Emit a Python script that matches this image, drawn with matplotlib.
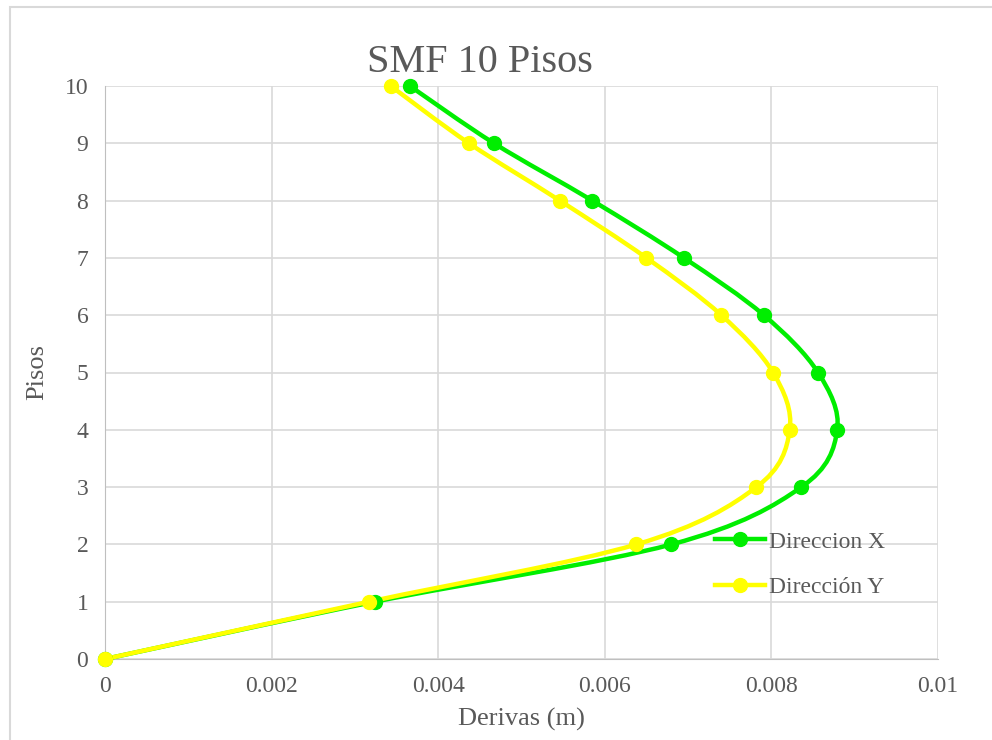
import matplotlib
matplotlib.use("Agg")
import matplotlib.pyplot as plt
from matplotlib.path import Path
from matplotlib.patches import PathPatch, Rectangle
from matplotlib.lines import Line2D
import numpy as np

plt.rcParams['font.family'] = ['Liberation Serif', 'DejaVu Serif']

pisos = [0, 1, 2, 3, 4, 5, 6, 7, 8, 9, 10]
deriva_x = [0, 0.00324, 0.00680, 0.00836, 0.00879, 0.00856, 0.00791, 0.00695, 0.00585, 0.00467, 0.00366]
deriva_y = [0, 0.00317, 0.00638, 0.00782, 0.00822, 0.00802, 0.00740, 0.00650, 0.00546, 0.00437, 0.00343]
series_names = ["Direccion X", "Dirección Y"]
colors = ["#00ee00", "#ffff00"]
xticks = [0, 0.002, 0.004, 0.006, 0.008, 0.01]
xticklabels = ["0", "0.002", "0.004", "0.006", "0.008", "0.01"]

fig = plt.figure(figsize=(9.92, 7.40), dpi=100)
fig.patches.append(Rectangle((10/992, -0.1), 1.2, (740-7)/740 + 0.1, transform=fig.transFigure,
                             fill=False, edgecolor="#d9d9d9", lw=1.5))
ax = fig.add_axes([105/992, 1-659/740, 833/992, 573/740])


def smooth_path(xs, ys):
    pts = np.column_stack([xs, ys]).astype(float)
    n = len(pts)
    verts = [pts[0]]
    codes = [Path.MOVETO]
    for i in range(n - 1):
        p0 = pts[i - 1] if i > 0 else pts[i]
        p1 = pts[i]
        p2 = pts[i + 1]
        p3 = pts[i + 2] if i + 2 < n else pts[i + 1]
        c1 = p1 + (p2 - p0) / 6
        c2 = p2 - (p3 - p1) / 6
        verts += [c1, c2, p2]
        codes += [Path.CURVE4] * 3
    return Path(verts, codes)


handles = []
for xs, name, c in zip([deriva_x, deriva_y], series_names, colors):
    ax.add_patch(PathPatch(smooth_path(xs, pisos), fill=False, edgecolor=c, lw=3.2, zorder=3,
                           capstyle='round', clip_on=False))
    ax.plot(xs, pisos, linestyle='none', marker='o', markersize=10, color=c, zorder=4,
            clip_on=False)
    handles.append(Line2D([], [], color=c, lw=3.2, marker='o', markersize=10))

ax.set_xlim(0, 0.01)
ax.set_ylim(0, 10)
ax.set_xticks(xticks)
ax.set_xticklabels(xticklabels)
ax.set_yticks(range(0, 11))
ax.grid(True, color="#d9d9d9", lw=1.2)
ax.set_axisbelow(True)
for s in ax.spines.values():
    s.set_visible(False)
ax.spines['left'].set_visible(True)
ax.spines['left'].set_color("#bfbfbf")
ax.spines['bottom'].set_visible(True)
ax.spines['bottom'].set_color("#bfbfbf")
ax.tick_params(length=0, labelsize=17, colors="#595959", pad=12)

ax.set_xlabel("Derivas (m)", fontsize=19, color="#595959", labelpad=8)
ax.set_ylabel("Pisos", fontsize=19, color="#595959", labelpad=12)
fig.text(480/992, 1-63/740, "SMF 10 Pisos", fontsize=29, color="#595959", ha='center', va='center')

leg = ax.legend(handles, series_names, loc='center left', bbox_to_anchor=(0.707, 0.165),
                frameon=False, fontsize=17, labelcolor="#595959", handlelength=2.1,
                handletextpad=0.2, labelspacing=1.0)

fig.savefig("out.png", dpi=100)
